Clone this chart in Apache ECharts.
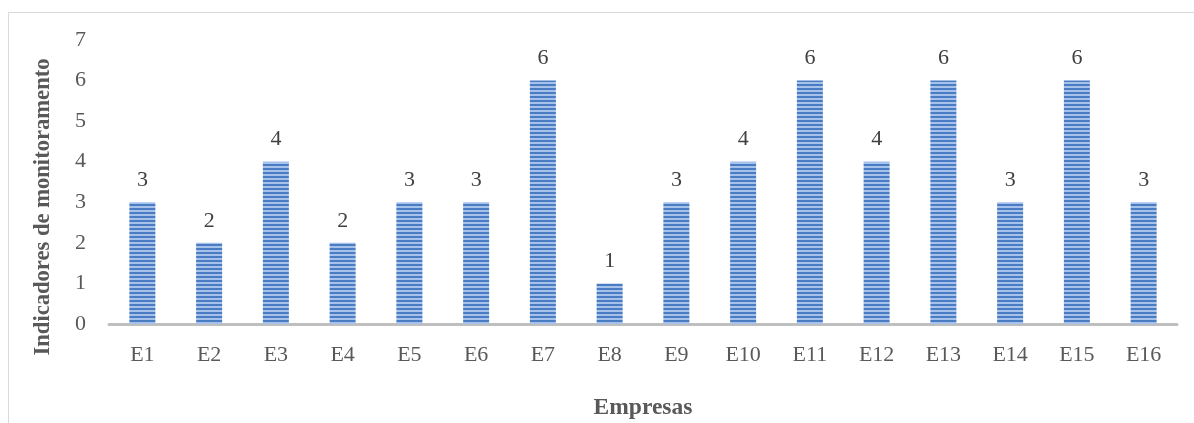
<!DOCTYPE html>
<html>
<head>
<meta charset="utf-8">
<script src="https://cdn.jsdelivr.net/npm/echarts@6/dist/echarts.min.js"></script>
<style>
  html, body { margin: 0; padding: 0; background: #fff; }
  #chart { width: 1194px; height: 423px; }
</style>
</head>
<body>
<div id="chart"></div>
<script>
// Companies and the count of monitoring indicators each one reports
const empresas = ['E1','E2','E3','E4','E5','E6','E7','E8','E9','E10','E11','E12','E13','E14','E15','E16'];
const indicadores = [3, 2, 4, 2, 3, 3, 6, 1, 3, 4, 6, 4, 6, 3, 6, 3];
const yTicks = [0, 1, 2, 3, 4, 5, 6, 7];

// Horizontal stripe fill for the bars
function stripeFill() {
  const c = document.createElement('canvas');
  c.width = 4; c.height = 4;
  const ctx = c.getContext('2d');
  ctx.fillStyle = '#a6c2ea';
  ctx.fillRect(0, 0, 4, 4);
  ctx.fillStyle = '#4a7cc4';
  ctx.fillRect(0, 0, 4, 2);
  return { image: c, repeat: 'repeat' };
}

const fontFamily = '"Liberation Serif", "Times New Roman", serif';
const chart = echarts.init(document.getElementById('chart'), null, { renderer: 'canvas' });

chart.setOption({
  animation: false,
  backgroundColor: '#ffffff',
  graphic: [
    { type: 'line', silent: true, shape: { x1: 8.5, y1: 12.5, x2: 1194, y2: 12.5 }, style: { stroke: '#d9d9d9', lineWidth: 1 } },
    { type: 'line', silent: true, shape: { x1: 8.5, y1: 12.5, x2: 8.5, y2: 423 }, style: { stroke: '#d9d9d9', lineWidth: 1 } }
  ],
  grid: { left: 109, right: 17, top: 40, bottom: 99, containLabel: false, outerBoundsMode: 'none' },
  xAxis: {
    type: 'category',
    data: empresas,
    name: 'Empresas',
    nameLocation: 'middle',
    nameGap: 72,
    nameTextStyle: { fontFamily, fontSize: 23.5, fontWeight: 'bold', color: '#595959' },
    axisLine: { show: true, lineStyle: { color: '#bfbfbf', width: 3 } },
    axisTick: { show: false },
    axisLabel: { fontFamily, fontSize: 22, color: '#595959', margin: 20 }
  },
  yAxis: {
    type: 'value',
    min: yTicks[0],
    max: yTicks[yTicks.length - 1],
    interval: 1,
    name: 'Indicadores de monitoramento',
    nameLocation: 'middle',
    nameGap: 54,
    nameTextStyle: { fontFamily, fontSize: 22.6, fontWeight: 'bold', color: '#595959', padding: [0, 50, 0, 0] },
    axisLine: { show: false },
    axisTick: { show: false },
    splitLine: { show: false },
    axisLabel: { fontFamily, fontSize: 22, color: '#595959', margin: 23 }
  },
  series: [{
    type: 'bar',
    data: indicadores,
    barWidth: 26,
    itemStyle: { color: stripeFill() },
    label: {
      show: true,
      position: 'top',
      distance: 11,
      fontFamily,
      fontSize: 22,
      color: '#404040'
    }
  }]
});
</script>
</body>
</html>
